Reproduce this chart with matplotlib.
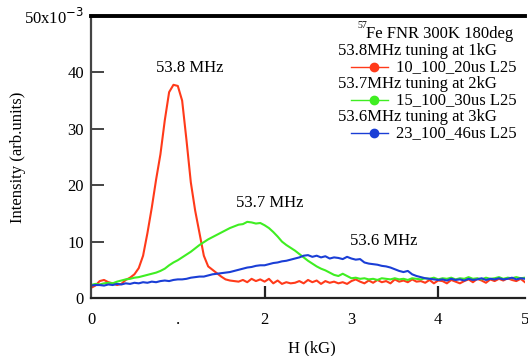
import numpy as np
import matplotlib
matplotlib.use("Agg")
import matplotlib.pyplot as plt
from matplotlib.lines import Line2D

plt.rcParams['font.family'] = ['Liberation Serif', 'DejaVu Serif']

# field axis (kG)
h = np.linspace(0, 5, 101)

red = [1.8, 2.2, 3.0, 3.2, 2.8, 2.6, 2.3, 2.5, 3.2, 3.6,
       4.2, 5.3, 7.5, 11.5, 16.0, 21.0, 25.5, 31.5, 36.5, 37.8,
       37.6, 35.0, 28.0, 20.5, 15.5, 11.5, 7.5, 5.6, 5.0, 4.4,
       3.8, 3.3, 3.1, 3.0, 2.9, 3.2, 2.8, 3.4, 3.0, 3.3,
       2.9, 3.4, 2.6, 3.1, 2.5, 2.8, 2.6, 2.7, 3.0, 2.6,
       3.2, 2.8, 3.1, 2.5, 3.0, 2.7, 2.9, 2.6, 2.8, 2.5,
       3.0, 3.3, 2.9, 2.6, 3.1, 2.7, 3.2, 2.8, 3.0, 2.6,
       3.3, 2.9, 3.1, 2.8, 3.3, 2.9, 3.0, 2.7, 3.2, 2.6,
       3.1, 3.0, 2.6, 3.2, 2.9, 2.6, 3.0, 3.3, 2.8, 3.4,
       3.1, 2.7, 3.3, 3.0, 3.4, 3.1, 3.5, 3.2, 3.0, 3.4, 2.8]

green = [2.3, 2.5, 2.4, 2.6, 2.7, 2.6, 2.9, 3.1, 3.3, 3.4,
         3.6, 3.7, 3.9, 4.1, 4.3, 4.5, 4.8, 5.2, 5.8, 6.3,
         6.7, 7.2, 7.7, 8.2, 8.8, 9.4, 9.9, 10.4, 10.8, 11.2,
         11.6, 12.0, 12.4, 12.7, 13.0, 13.1, 13.5, 13.4, 13.2, 13.3,
         12.9, 12.4, 11.7, 10.9, 10.0, 9.4, 8.9, 8.4, 7.8, 7.2,
         6.6, 6.1, 5.6, 5.2, 4.9, 4.5, 4.1, 3.9, 4.3, 3.9,
         3.5, 3.6, 3.4, 3.5, 3.3, 3.4, 3.2, 3.5, 3.4, 3.3,
         3.5, 3.3, 3.4, 3.2, 3.5, 3.4, 3.3, 3.5, 3.4, 3.6,
         3.3, 3.5, 3.4, 3.6, 3.3, 3.5, 3.4, 3.7, 3.4, 3.5,
         3.3, 3.6, 3.4, 3.5, 3.7, 3.4, 3.6, 3.5, 3.7, 3.5, 3.6]

blue = [2.2, 2.3, 2.3, 2.2, 2.4, 2.3, 2.5, 2.4, 2.6, 2.5,
        2.7, 2.6, 2.8, 2.7, 2.9, 2.8, 3.0, 3.1, 3.0, 3.2,
        3.3, 3.3, 3.4, 3.6, 3.7, 3.8, 3.8, 4.0, 4.2, 4.3,
        4.4, 4.5, 4.6, 4.8, 5.0, 5.2, 5.4, 5.5, 5.7, 5.8,
        5.8, 6.0, 6.2, 6.3, 6.5, 6.6, 6.8, 7.0, 7.2, 7.5,
        7.6, 7.3, 7.5, 7.2, 7.4, 7.0, 7.2, 7.1, 6.9, 7.3,
        7.0, 6.8, 6.9, 6.3, 6.1, 6.0, 5.9, 5.7, 5.6, 5.4,
        5.1, 4.8, 4.6, 4.8, 4.2, 3.9, 3.7, 3.5, 3.4, 3.3,
        3.2, 3.3, 3.1, 3.4, 3.2, 3.3, 3.1, 3.4, 3.2, 3.3,
        3.5, 3.2, 3.4, 3.3, 3.5, 3.3, 3.4, 3.6, 3.3, 3.5, 3.4]

c_red, c_green, c_blue = '#ff3a1a', '#3fee22', '#1a3ed6'
series_labels = ['10_100_20us L25', '15_100_30us L25', '23_100_46us L25']
headers = ['53.8MHz tuning at 1kG', '53.7MHz tuning at 2kG', '53.6MHz tuning at 3kG']

fs = 12

fig = plt.figure(figsize=(5.28, 3.56), dpi=100)
ax = fig.add_axes([91/528, 58/356, 434/528, 282/356])

ax.plot(h, red, color=c_red, lw=1.5)
ax.plot(h, green, color=c_green, lw=1.5)
ax.plot(h, blue, color=c_blue, lw=1.5)

ax.set_xlim(0, 5)
ax.set_ylim(0, 50)

ax.spines['right'].set_visible(False)
ax.spines['top'].set_linewidth(2.8)
ax.spines['top'].set_color('black')
ax.spines['left'].set_color('#444444')
ax.spines['left'].set_linewidth(1.6)
ax.spines['bottom'].set_color('#222222')
ax.spines['bottom'].set_linewidth(1.6)

# only 2 and 4 carry a tick mark in the original
ax.set_xticks([2, 4], labels=['2', '4'])
ax.set_xticks([0, 1, 3, 5], labels=['0', '.', '3', '5'], minor=True)
ax.tick_params(axis='x', which='major', direction='in', length=9, width=1.6,
               color='#222222', pad=10, labelsize=fs)
ax.tick_params(axis='x', which='minor', length=0, pad=10, labelsize=fs)

ax.set_yticks([0, 10, 20, 30, 40, 50])
ax.set_yticklabels(['0', '10', '20', '30', '40', r'50x10$^{-3}$'])
ax.yaxis.set_tick_params(which='major', direction='in', length=9, width=1.4,
                         color='#444444', labelsize=fs, pad=5)

ax.set_xlabel('H (kG)', fontsize=fs)
ax.xaxis.set_label_coords(0.51, -0.15)
ax.set_ylabel('Intensity (arb.units)', fontsize=fs)
ax.yaxis.set_label_coords(-0.15, 0.5)

ax.text(1.14, 40.8, '53.8 MHz', ha='center', va='center', fontsize=fs)
ax.text(2.06, 16.8, '53.7 MHz', ha='center', va='center', fontsize=fs)
ax.text(3.37, 10.1, '53.6 MHz', ha='center', va='center', fontsize=fs)

# legend block
def ax_xy(px, py):
    return (px - 91) / 434, (298 - py) / 282

xs, ys = ax_xy(357, 26)
ax.text(xs, ys, '57', transform=ax.transAxes, ha='left', va='center', fontsize=7)
x0, y0 = ax_xy(366, 34)
ax.text(x0, y0, 'Fe FNR 300K 180deg', transform=ax.transAxes,
        ha='left', va='center', fontsize=fs)
rows_y = [51, 67, 84, 100, 117, 133]
for i, col in enumerate([c_red, c_green, c_blue]):
    xh, yh = ax_xy(338, rows_y[2 * i])
    ax.text(xh, yh, headers[i], transform=ax.transAxes, ha='left', va='center', fontsize=fs)
    xa, ya = ax_xy(351, rows_y[2 * i + 1])
    xb, _ = ax_xy(388, rows_y[2 * i + 1])
    xm, _ = ax_xy(374, rows_y[2 * i + 1])
    ax.add_line(Line2D([xa, xb], [ya, ya], color=col, lw=1.0, transform=ax.transAxes))
    ax.add_line(Line2D([xm], [ya], color=col, marker='o', ms=6, transform=ax.transAxes))
    xl, _ = ax_xy(396, rows_y[2 * i + 1])
    ax.text(xl, ya, series_labels[i], transform=ax.transAxes, ha='left', va='center', fontsize=fs)

fig.savefig('out.png', dpi=100)
